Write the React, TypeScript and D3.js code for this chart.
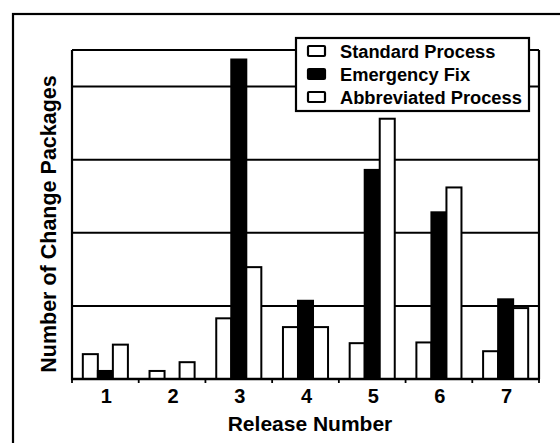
import React from "react";
import * as d3 from "d3";

const releases = ["1", "2", "3", "4", "5", "6", "7"];
const seriesNames = ["Standard Process", "Emergency Fix", "Abbreviated Process"];
const standard = [3.4, 1.1, 8.3, 7.1, 4.9, 5.0, 3.8];
const emergency = [1.1, 0, 43.7, 10.7, 28.6, 22.8, 10.9];
const abbreviated = [4.7, 2.3, 15.3, 7.1, 35.6, 26.2, 9.7];
const gridValues = [10, 20, 30, 40];

const W = 560;
const H = 443;
const left = 72;
const right = 539;
const top = 50;
const bottom = 379;
const FONT = "'Liberation Sans', Arial, Helvetica, sans-serif";

export default function App() {
  const x = d3.scaleBand<string>().domain(releases).range([left, right]).padding(0);
  const inner = d3
    .scaleBand<string>()
    .domain(seriesNames)
    .range([0, x.bandwidth()])
    .paddingInner(0)
    .paddingOuter(0.72);
  const y = d3.scaleLinear().domain([0, 45]).range([bottom, top]);

  const series = [
    { name: seriesNames[0], values: standard, fill: "#fff" },
    { name: seriesNames[1], values: emergency, fill: "#000" },
    { name: seriesNames[2], values: abbreviated, fill: "#fff" },
  ];

  const legendX = 296;
  const legendY = 38;
  const legendW = 233;
  const legendH = 73;
  const rowH = 23;

  return (
    <svg
      width={W}
      height={H}
      style={{ position: "absolute", left: 0, top: 0, background: "#fff" }}
      fontFamily={FONT}
    >
      <rect x={0} y={0} width={W} height={H} fill="#fff" />
      {/* outer frame */}
      <rect x={13} y={14} width={W} height={H} fill="none" stroke="#000" strokeWidth={2.2} />

      {/* gridlines */}
      {gridValues.map((g) => (
        <line key={g} x1={left} x2={right} y1={y(g)} y2={y(g)} stroke="#000" strokeWidth={2} />
      ))}

      {/* bars */}
      {series.map((s) =>
        s.values.map((v, i) =>
          v > 0 ? (
            <rect
              key={s.name + i}
              x={(x(releases[i]) as number) + (inner(s.name) as number)}
              y={y(v)}
              width={inner.bandwidth()}
              height={y(0) - y(v)}
              fill={s.fill}
              stroke="#000"
              strokeWidth={2}
            />
          ) : null
        )
      )}

      {/* plot frame */}
      <line x1={left} x2={right} y1={top} y2={top} stroke="#000" strokeWidth={2.2} />
      <line x1={right} x2={right} y1={top} y2={bottom} stroke="#000" strokeWidth={2.2} />
      <line x1={left} x2={left} y1={top} y2={bottom + 1} stroke="#000" strokeWidth={2.2} />
      <line x1={left - 1} x2={right + 1} y1={bottom} y2={bottom} stroke="#000" strokeWidth={2.6} />

      {/* x ticks */}
      {releases.map((r) => (
        <line
          key={"t" + r}
          x1={x(r) as number}
          x2={x(r) as number}
          y1={bottom}
          y2={bottom + 4}
          stroke="#000"
          strokeWidth={1.8}
        />
      ))}
      <line x1={right} x2={right} y1={bottom} y2={bottom + 4} stroke="#000" strokeWidth={1.8} />

      {/* x tick labels */}
      {releases.map((r) => (
        <text
          key={"l" + r}
          x={(x(r) as number) + x.bandwidth() / 2 + 1}
          y={403}
          textAnchor="middle"
          fontSize={20}
          fontWeight="bold"
        >
          {r}
        </text>
      ))}

      {/* axis titles */}
      <text x={310} y={431} textAnchor="middle" fontSize={21} fontWeight="bold">
        Release Number
      </text>
      <text
        transform={`translate(56, 224) rotate(-90)`}
        textAnchor="middle"
        fontSize={21.5}
        fontWeight="bold"
      >
        Number of Change Packages
      </text>

      {/* legend */}
      <rect x={legendX} y={legendY} width={legendW} height={legendH} fill="#fff" stroke="#000" strokeWidth={2.2} />
      {series.map((s, i) => {
        const cy = legendY + 13 + i * rowH;
        return (
          <g key={"lg" + s.name}>
            <rect x={308} y={cy - 5} width={17} height={10} fill={s.fill} stroke="#000" strokeWidth={2.2} rx={1} />
            <text x={340} y={cy} dominantBaseline="central" fontSize={18.3} fontWeight="bold">
              {s.name}
            </text>
          </g>
        );
      })}
    </svg>
  );
}
